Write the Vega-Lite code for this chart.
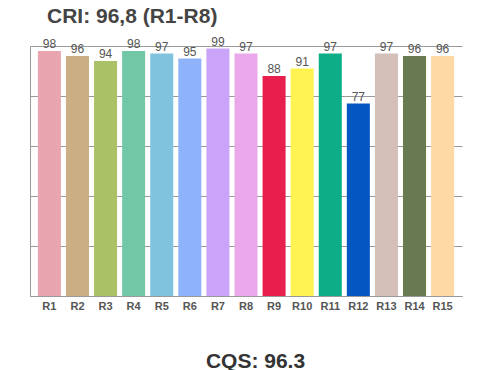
{
  "$schema": "https://vega.github.io/schema/vega-lite/v6.json",
  "width": 432,
  "height": 250,
  "autosize": {"type": "none"},
  "padding": {"left": 30, "top": 46, "right": 38, "bottom": 74},
  "background": "white",
  "config": {
    "view": {"stroke": null},
    "font": "Liberation Sans"
  },
  "title": {
    "text": "CRI: 96,8 (R1-R8)",
    "anchor": "start",
    "frame": "group",
    "baseline": "alphabetic",
    "offset": -8,
    "dx": 17,
    "fontSize": 21,
    "fontWeight": "bold",
    "color": "#444444",
    "font": "Liberation Sans"
  },
  "data": {
    "values": [
      {"r": "R1", "v": 98},
      {"r": "R2", "v": 96},
      {"r": "R3", "v": 94},
      {"r": "R4", "v": 98},
      {"r": "R5", "v": 97},
      {"r": "R6", "v": 95},
      {"r": "R7", "v": 99},
      {"r": "R8", "v": 97},
      {"r": "R9", "v": 88},
      {"r": "R10", "v": 91},
      {"r": "R11", "v": 97},
      {"r": "R12", "v": 77},
      {"r": "R13", "v": 97},
      {"r": "R14", "v": 96},
      {"r": "R15", "v": 96}
    ]
  },
  "encoding": {
    "x": {
      "field": "r",
      "type": "nominal",
      "sort": null,
      "scale": {"paddingInner": 0.18, "paddingOuter": 0.28},
      "axis": {
        "title": "CQS: 96.3",
        "titleFontSize": 21,
        "titleFontWeight": "bold",
        "titleColor": "#333333",
        "titlePadding": 39,
        "titleX": 225,
        "titleAnchor": "middle",
        "labelAngle": 0,
        "labelFontSize": 11,
        "labelFontWeight": "bold",
        "labelColor": "#555555",
        "labelPadding": 4,
        "ticks": false,
        "domainColor": "#999999",
        "domainWidth": 1,
        "grid": false
      }
    },
    "y": {
      "field": "v",
      "type": "quantitative",
      "scale": {"domain": [0, 100], "nice": false},
      "axis": {
        "title": null,
        "labels": false,
        "ticks": false,
        "values": [0, 20, 40, 60, 80, 100],
        "domainColor": "#999999",
        "gridColor": "#999999",
        "gridOpacity": 1,
        "gridWidth": 1
      }
    }
  },
  "layer": [
    {
      "mark": {"type": "bar"},
      "encoding": {
        "color": {
          "field": "r",
          "type": "nominal",
          "legend": null,
          "scale": {
            "domain": ["R1","R2","R3","R4","R5","R6","R7","R8","R9","R10","R11","R12","R13","R14","R15"],
            "range": ["#E8A5AF","#CBAE84","#AAC166","#72C7A6","#7FC3DE","#8FB3FA","#C9A4F9","#EAA8EA","#E81E4C","#FFF352","#0CAD87","#0457C1","#D4BFB9","#697A50","#FDD9A6"]
          }
        }
      }
    },
    {
      "mark": {"type": "text", "baseline": "alphabetic", "dy": -3, "fontSize": 12, "color": "#555555"},
      "encoding": {"text": {"field": "v", "type": "quantitative"}}
    }
  ]
}
